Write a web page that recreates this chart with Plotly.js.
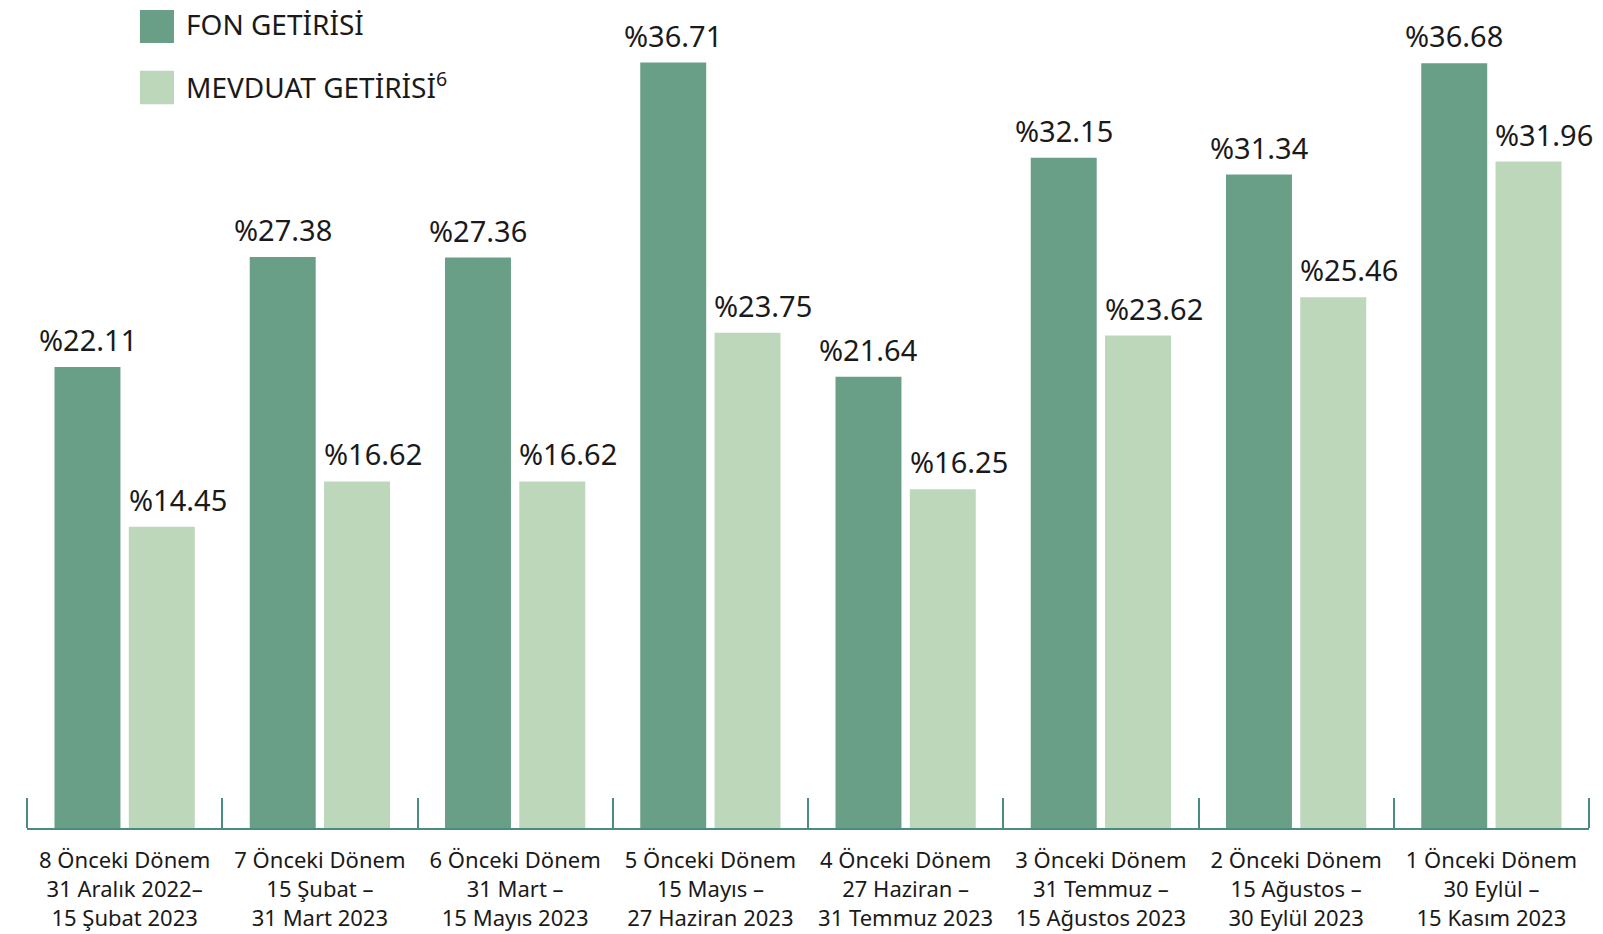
<!DOCTYPE html>
<html>
<head>
<meta charset="utf-8">
<script src="https://cdn.plot.ly/plotly-3.0.1.min.js"></script>
<style>html,body{margin:0;padding:0;background:#fff;}#chart{width:1603px;height:934px;}</style>
</head>
<body>
<div id="chart"></div>
<script>
const periods = ["8 Önceki Dönem","7 Önceki Dönem","6 Önceki Dönem","5 Önceki Dönem","4 Önceki Dönem","3 Önceki Dönem","2 Önceki Dönem","1 Önceki Dönem"];
const dateStarts = ["31 Aralık 2022–","15 Şubat –","31 Mart –","15 Mayıs –","27 Haziran –","31 Temmuz –","15 Ağustos –","30 Eylül –"];
const dateEnds = ["15 Şubat 2023","31 Mart 2023","15 Mayıs 2023","27 Haziran 2023","31 Temmuz 2023","15 Ağustos 2023","30 Eylül 2023","15 Kasım 2023"];
const fonGetirisi = [22.11, 27.38, 27.36, 36.71, 21.64, 32.15, 31.34, 36.68];
const mevduatGetirisi = [14.45, 16.62, 16.62, 23.75, 16.25, 23.62, 25.46, 31.96];
const seriesNames = ["FON GETİRİSİ", "MEVDUAT GETİRİSİ<sup>6</sup>"];

const categories = periods.map((p, i) => p + "<br>" + dateStarts[i] + "<br>" + dateEnds[i]);
const DARK = "#6A9F87", LIGHT = "#BDD7BB", AXIS = "#4B8C80", TXT = "#1a1a1a";
const FONT = "Noto Sans, Open Sans, sans-serif";
const fmt = v => "%" + v.toFixed(2);

const traces = [
  {type: "bar", x: categories, y: fonGetirisi, name: seriesNames[0], marker: {color: DARK}, hoverinfo: "none"},
  {type: "bar", x: categories, y: mevduatGetirisi, name: seriesNames[1], marker: {color: LIGHT}, hoverinfo: "none"}
];

const annotations = [];
categories.forEach((c, i) => {
  annotations.push({x: c, y: fonGetirisi[i], xref: "x", yref: "y", text: fmt(fonGetirisi[i]),
    showarrow: false, xanchor: "center", yanchor: "bottom", xshift: -37, yshift: 6,
    font: {family: FONT, size: 29, color: TXT}});
  annotations.push({x: c, y: mevduatGetirisi[i], xref: "x", yref: "y", text: fmt(mevduatGetirisi[i]),
    showarrow: false, xanchor: "left", yanchor: "bottom", xshift: 2, yshift: 6,
    font: {family: FONT, size: 29, color: TXT}});
});
// custom legend labels
annotations.push({xref: "paper", yref: "paper", x: 0.1005, y: 0.9705, xanchor: "left", yanchor: "middle",
  text: seriesNames[0], showarrow: false, font: {family: FONT, size: 28, color: TXT}});
annotations.push({xref: "paper", yref: "paper", x: 0.1005, y: 0.8965, xanchor: "left", yanchor: "middle",
  text: seriesNames[1], showarrow: false, font: {family: FONT, size: 28, color: TXT}});

const shapes = [
  {type: "rect", xref: "paper", yref: "paper", x0: 0.0723, x1: 0.0941, y0: 0.9481, y1: 0.9879, fillcolor: DARK, line: {width: 0}},
  {type: "rect", xref: "paper", yref: "paper", x0: 0.0723, x1: 0.0941, y0: 0.8740, y1: 0.9146, fillcolor: LIGHT, line: {width: 0}},
  // end ticks of the category axis
  {type: "line", xref: "paper", yref: "paper", ysizemode: "pixel", yanchor: 0, x0: 0, x1: 0, y0: 0, y1: 30, line: {color: AXIS, width: 2}},
  {type: "line", xref: "paper", yref: "paper", ysizemode: "pixel", yanchor: 0, x0: 1, x1: 1, y0: 0, y1: 30, line: {color: AXIS, width: 2}}
];

const layout = {
  width: 1603, height: 934,
  margin: {l: 27, r: 14, t: 0, b: 106},
  paper_bgcolor: "#fff", plot_bgcolor: "#fff",
  barmode: "group", bargap: 0.239, bargroupgap: 0.112,
  showlegend: false,
  font: {family: FONT, color: TXT},
  xaxis: {
    type: "category", range: [-0.5, 7.5], autorange: false, tickson: "boundaries", ticks: "inside", ticklen: 30, tickwidth: 2, tickcolor: AXIS,
    showline: true, linecolor: AXIS, linewidth: 2, showgrid: false, zeroline: false,
    tickfont: {family: FONT, size: 22, color: TXT}, ticklabelstandoff: 12, fixedrange: true
  },
  yaxis: {range: [0, 39.71], visible: false, showgrid: false, zeroline: false, fixedrange: true},
  annotations: annotations,
  shapes: shapes
};

Plotly.newPlot("chart", traces, layout, {displayModeBar: false, staticPlot: true});
</script>
</body>
</html>
